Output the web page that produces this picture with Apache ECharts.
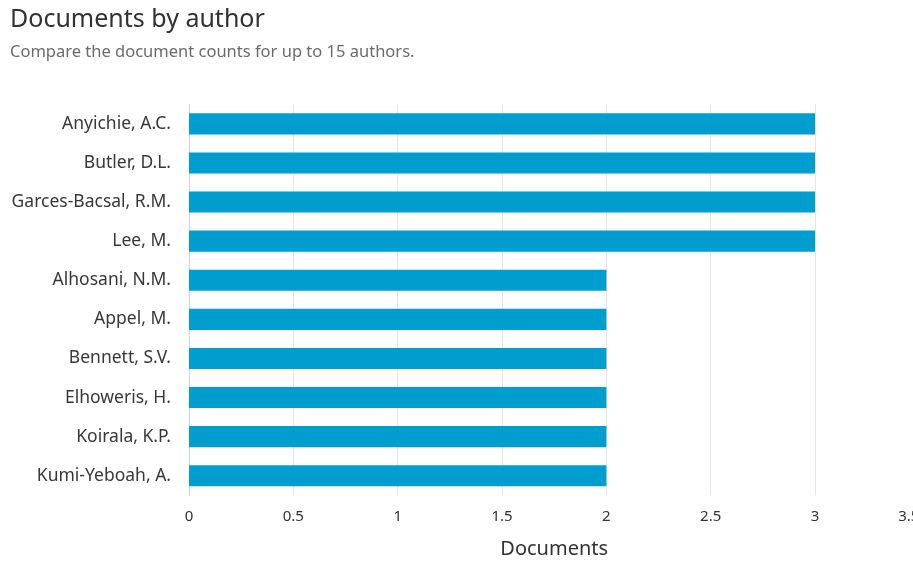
<!DOCTYPE html>
<html>
<head>
<meta charset="utf-8">
<script src="https://cdn.jsdelivr.net/npm/echarts@6/dist/echarts.min.js"></script>
<style>
html,body{margin:0;padding:0;background:#fff;}
#chart{width:913px;height:562px;}
</style>
</head>
<body>
<div id="chart"></div>
<script>
const authors = ["Anyichie, A.C.", "Butler, D.L.", "Garces-Bacsal, R.M.", "Lee, M.", "Alhosani, N.M.", "Appel, M.", "Bennett, S.V.", "Elhoweris, H.", "Koirala, K.P.", "Kumi-Yeboah, A."];
const documents = [3, 3, 3, 3, 2, 2, 2, 2, 2, 2];
const xTicks = { min: 0, max: 3.5, interval: 0.5 };

const FONT = '"Noto Sans", "Open Sans", sans-serif';
const chart = echarts.init(document.getElementById('chart'), null, { renderer: 'canvas' });
chart.setOption({
  animation: false,
  backgroundColor: '#ffffff',
  title: {
    text: 'Documents by author',
    subtext: 'Compare the document counts for up to 15 authors.',
    left: 10,
    top: 7,
    padding: 0,
    itemGap: 12,
    textStyle: { fontFamily: FONT, fontSize: 25, fontWeight: 'normal', color: '#323232' },
    subtextStyle: { fontFamily: FONT, fontSize: 16.5, color: '#6b6b6b' }
  },
  grid: { left: 189, width: 730.4, top: 104.3, height: 391, containLabel: false, outerBoundsMode: 'none' },
  xAxis: {
    type: 'value',
    min: xTicks.min,
    max: xTicks.max,
    interval: xTicks.interval,
    name: 'Documents',
    nameLocation: 'middle',
    nameGap: 44,
    nameTextStyle: { fontFamily: FONT, fontSize: 20, color: '#333' },
    axisLine: { show: false },
    axisTick: { show: false },
    axisLabel: { fontFamily: FONT, fontSize: 15, color: '#333', margin: 14, alignMaxLabel: 'right' },
    splitLine: { show: true, lineStyle: { color: '#e6e6e6', width: 1 } }
  },
  yAxis: {
    type: 'category',
    inverse: true,
    data: authors,
    axisLine: { show: true, lineStyle: { color: '#ccd6eb', width: 1 } },
    axisTick: { show: false },
    axisLabel: { fontFamily: FONT, fontSize: 17.5, color: '#383838', margin: 18 },
    splitLine: { show: false }
  },
  series: [{
    type: 'bar',
    data: documents,
    barCategoryGap: '46%',
    itemStyle: { color: '#009ECF' },
    emphasis: { disabled: true }
  }]
});
</script>
</body>
</html>
